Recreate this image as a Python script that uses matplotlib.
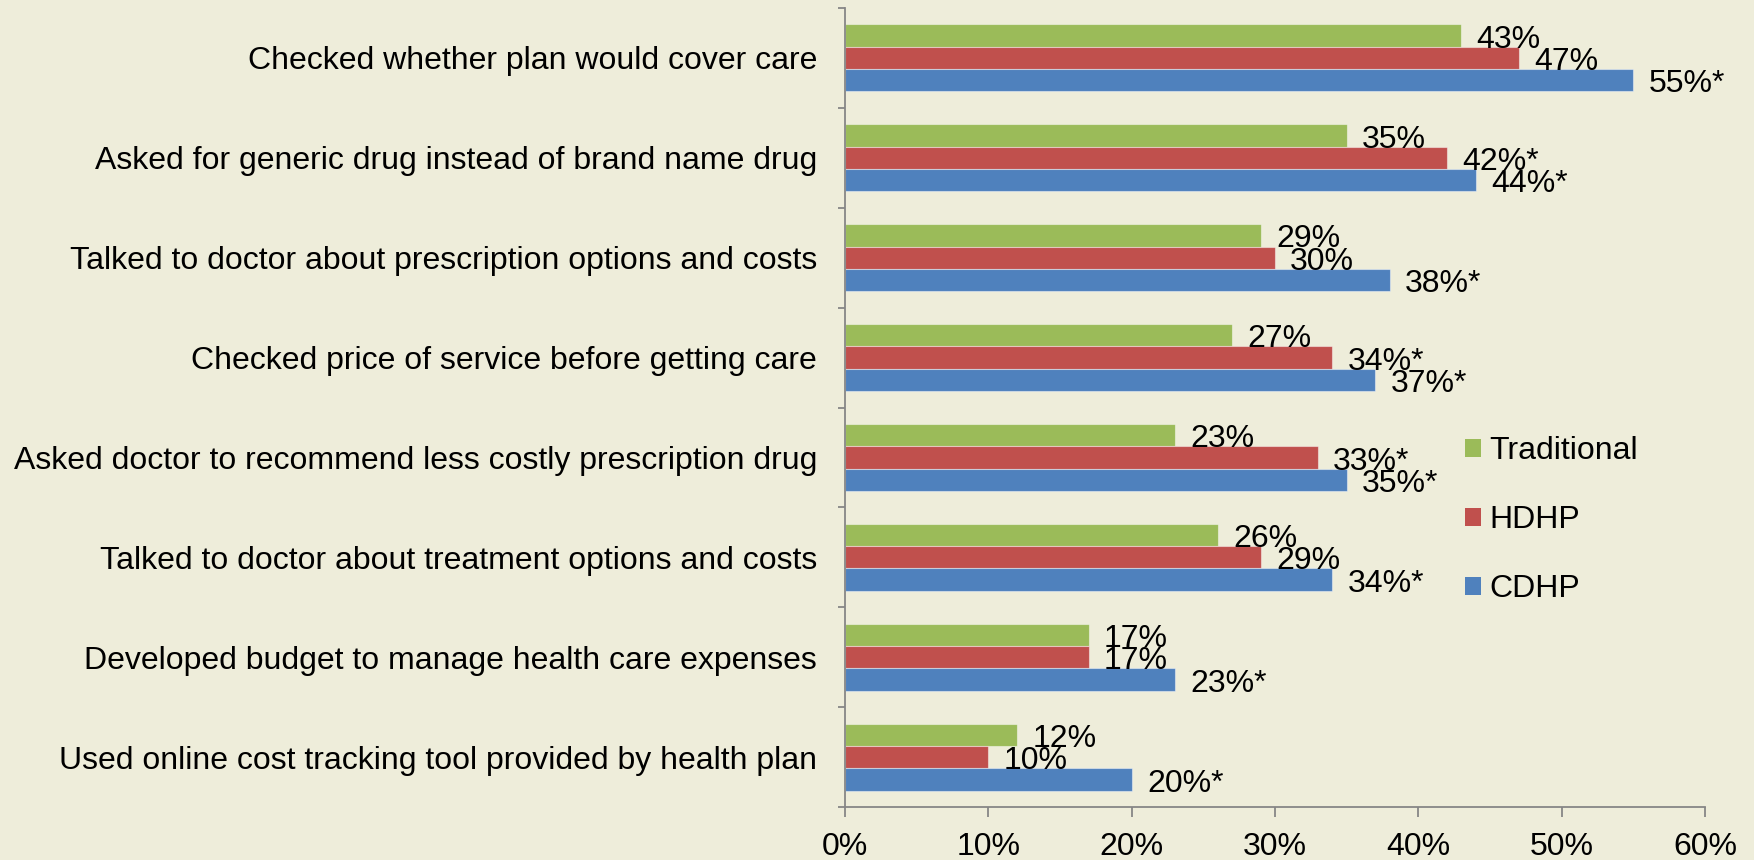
import matplotlib
matplotlib.use("Agg")
import matplotlib.pyplot as plt
import numpy as np
from matplotlib.ticker import FixedLocator, PercentFormatter

plt.rcParams['font.family'] = ['Liberation Sans', 'DejaVu Sans']

categories = [
    "Checked whether plan would cover care",
    "Asked for generic drug instead of brand name drug",
    "Talked to doctor about prescription options and costs",
    "Checked price of service before getting care",
    "Asked doctor to recommend less costly prescription drug",
    "Talked to doctor about treatment options and costs",
    "Developed budget to manage health care expenses",
    "Used online cost tracking tool provided by health plan",
]
series_names = ["Traditional", "HDHP", "CDHP"]
traditional = [43, 35, 29, 27, 23, 26, 17, 12]
hdhp = [47, 42, 30, 34, 33, 29, 17, 10]
cdhp = [55, 44, 38, 37, 35, 34, 23, 20]
traditional_sig = [False] * 8
hdhp_sig = [False, True, False, True, True, False, False, False]
cdhp_sig = [True] * 8
x_ticks = [0, 10, 20, 30, 40, 50, 60]

colors = ["#9BBB59", "#C0504D", "#4F81BD"]
bg = "#EEEDDA"
axis_gray = "#868686"
fs = 23

fig = plt.figure(figsize=(17.54, 8.6), dpi=100, facecolor=bg)
ax = fig.add_axes([845 / 1754, 1 - 807 / 860, (1705 - 845) / 1754, (807 - 8) / 860])
ax.set_facecolor(bg)

y = np.arange(len(categories))
h = 0.224
offsets = [-h, 0, h]
all_vals = [traditional, hdhp, cdhp]
all_sig = [traditional_sig, hdhp_sig, cdhp_sig]
for vals, sig, off, col, name in zip(all_vals, all_sig, offsets, colors, series_names):
    ax.barh(y + off, vals, height=h, color=col, label=name,
            edgecolor=(1, 1, 1, 0.45), linewidth=0.8)
    for yy, v, s in zip(y + off, vals, sig):
        ax.annotate(f"{v}%" + ("*" if s else ""), xy=(v, yy), xytext=(11, -3),
                    textcoords="offset points", va="center", ha="left",
                    fontsize=fs, color="black")

ax.set_xlim(0, 60)
ax.set_ylim(len(categories) - 0.5, -0.5)
ax.set_xticks(x_ticks)
ax.xaxis.set_major_formatter(PercentFormatter(decimals=0))
ax.set_yticks(y)
ax.set_yticklabels(categories)
ax.yaxis.set_minor_locator(FixedLocator(np.arange(-0.5, len(categories), 1.0)))

for s in ["top", "right"]:
    ax.spines[s].set_visible(False)
for s in ["left", "bottom"]:
    ax.spines[s].set_color(axis_gray)
    ax.spines[s].set_linewidth(1.3)

ax.tick_params(axis="y", which="major", length=0, pad=20, labelsize=fs)
ax.tick_params(axis="y", which="minor", length=5, width=1.3, color=axis_gray, direction="out")
ax.tick_params(axis="x", which="major", length=7.2, width=1.3, color=axis_gray,
               direction="out", pad=11, labelsize=fs)

handles, labels = ax.get_legend_handles_labels()
leg = fig.legend(handles, labels, loc="center left",
                 bbox_to_anchor=(1465 / 1754, 1 - 520 / 860),
                 frameon=False, fontsize=fs, handlelength=0.5, handleheight=0.5,
                 handletextpad=0.25, labelspacing=1.22, borderpad=0, borderaxespad=0)
for p in leg.get_patches():
    p.set_edgecolor("none")

fig.savefig("out.png", dpi=100, facecolor=bg)
